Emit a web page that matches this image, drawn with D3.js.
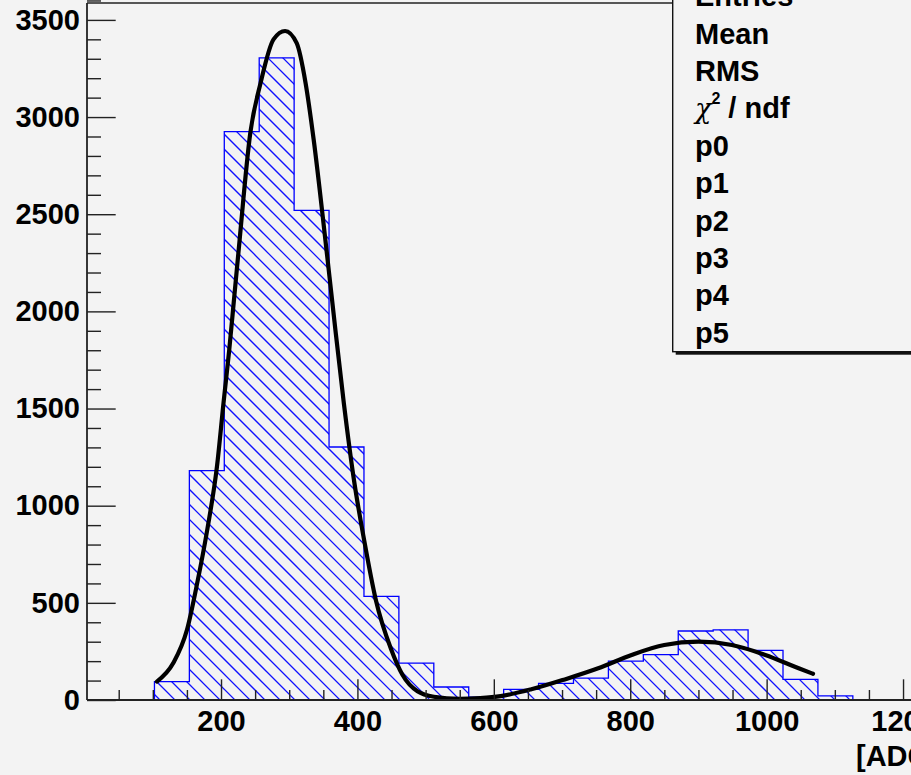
<!DOCTYPE html>
<html>
<head>
<meta charset="utf-8">
<script src="https://cdn.jsdelivr.net/npm/d3@7"></script>
<style>
  html, body { margin: 0; padding: 0; background: #f3f3f3; overflow: hidden; }
  svg { display: block; }
  text { font-family: "Liberation Sans", Arial, Helvetica, sans-serif; font-weight: bold; fill: #000; }
</style>
</head>
<body>
<svg id="chart" width="911" height="775"></svg>
<script>
// ---- data ----
const binEdges = [102.4, 153.6, 204.8, 256.0, 307.2, 358.4, 409.6, 460.8, 512.0, 563.2,
                  614.4, 665.6, 716.8, 768.0, 819.2, 870.4, 921.6, 972.8, 1024.0, 1075.2, 1126.4];
const binCounts = [95, 1180, 2925, 3305, 2520, 1302, 533, 190, 67, 15,
                   55, 86, 113, 200, 234, 355, 361, 255, 106, 21];

const fitX = [106, 130, 150, 165, 180, 194, 204, 212, 219, 226, 243, 258, 277, 294, 311,
              324, 336, 352, 365, 380, 395, 410, 427, 449, 466, 488, 512, 550, 580, 610,
              655, 704, 753, 802, 850, 900, 949, 998, 1047, 1068];
const fitY = [95, 190, 360, 600, 880, 1200, 1540, 1800, 2060, 2320, 2920, 3175, 3400, 3443, 3380,
              3175, 2880, 2400, 1990, 1530, 1130, 820, 515, 265, 130, 45, 17, 6, 10, 20,
              55, 106, 163, 232, 283, 300, 283, 232, 163, 135];

const xMajorTicks = [200, 400, 600, 800, 1000, 1200];
const xMinorTicks = [50, 100, 150, 250, 300, 350, 450, 500, 550, 650, 700, 750,
                     850, 900, 950, 1050, 1100, 1150, 1250];
const yMajorTicks = [0, 500, 1000, 1500, 2000, 2500, 3000, 3500];
const yMinorTicks = [100, 200, 300, 400, 600, 700, 800, 900, 1100, 1200, 1300, 1400,
                     1600, 1700, 1800, 1900, 2100, 2200, 2300, 2400, 2600, 2700, 2800, 2900,
                     3100, 3200, 3300, 3400, 3600];
const statsLabels = ["Entries", "Mean", "RMS", "CHI", "p0", "p1", "p2", "p3", "p4", "p5"];
const xTitle = "[ADC]";

// ---- layout ----
const svg = d3.select("#chart");
const W = 911, H = 775;
const frameLeft = 87, frameTop = 3, frameBottom = 700;

const x = d3.scaleLinear().domain([3.5, 1280]).range([frameLeft, 957.6]);
const y = d3.scaleLinear().domain([0, 3587]).range([frameBottom, frameTop]);

svg.append("rect").attr("width", W).attr("height", H).attr("fill", "#f3f3f3");

// ---- histogram shape ----
const stepPts = [[binEdges[0], 0]];
binCounts.forEach((c, i) => {
  stepPts.push([binEdges[i], c]);
  stepPts.push([binEdges[i + 1], c]);
});
stepPts.push([binEdges[binEdges.length - 1], 0]);
const stepLine = d3.line().x(d => x(d[0])).y(d => y(d[1]));

const defs = svg.append("defs");
defs.append("clipPath").attr("id", "histclip")
  .append("path").attr("d", stepLine(stepPts) + "Z");
defs.append("clipPath").attr("id", "plotclip")
  .append("rect").attr("x", frameLeft).attr("y", frameTop)
  .attr("width", 1000).attr("height", frameBottom - frameTop);

// hatching (lines going down-right), clipped to the histogram area
const hatchG = svg.append("g").attr("clip-path", "url(#histclip)");
const step = 15;
for (let k = -60; k < 70; k++) {
  const x0 = k * step;
  hatchG.append("line")
    .attr("x1", x0).attr("y1", 0).attr("x2", x0 + 800).attr("y2", 800)
    .attr("stroke", "#1010ff").attr("stroke-width", 1.25);
}

const g = svg.append("g").attr("clip-path", "url(#plotclip)");
g.append("path").attr("d", stepLine(stepPts))
  .attr("fill", "none").attr("stroke", "#0000ff").attr("stroke-width", 1.3);

// ---- fit curve ----
const fitPts = fitX.map((v, i) => [v, fitY[i]]);
g.append("path")
  .attr("d", d3.line().x(d => x(d[0])).y(d => y(d[1])).curve(d3.curveMonotoneX)(fitPts))
  .attr("fill", "none").attr("stroke", "#000").attr("stroke-width", 4.2)
  .attr("stroke-linejoin", "round").attr("stroke-linecap", "round");

// ---- frame top ----
svg.append("line").attr("x1", frameLeft).attr("x2", W).attr("y1", frameTop).attr("y2", frameTop)
  .attr("stroke", "#222").attr("stroke-width", 1.6);

// ---- axes ----
const axisColor = "#222";
const xAxisG = svg.append("g").attr("transform", `translate(0,${frameBottom})`)
  .call(d3.axisBottom(x).tickValues(xMajorTicks).tickSizeInner(-20.7).tickSizeOuter(0)
        .tickPadding(10).tickFormat(d3.format("d")));
svg.append("g").attr("transform", `translate(0,${frameBottom})`)
  .call(d3.axisBottom(x).tickValues(xMinorTicks).tickSizeInner(-10).tickSizeOuter(0).tickFormat(""))
  .call(a => a.select(".domain").remove());

const yAxisG = svg.append("g").attr("transform", `translate(${frameLeft},0)`)
  .call(d3.axisLeft(y).tickValues(yMajorTicks).tickSizeInner(-28.7).tickSizeOuter(0)
        .tickPadding(7).tickFormat(d3.format("d")));
svg.append("g").attr("transform", `translate(${frameLeft},0)`)
  .call(d3.axisLeft(y).tickValues(yMinorTicks).tickSizeInner(-14).tickSizeOuter(0).tickFormat(""))
  .call(a => a.select(".domain").remove());

svg.selectAll(".tick line").attr("stroke", axisColor).attr("stroke-width", 1.4);
svg.selectAll(".domain").attr("stroke", axisColor).attr("stroke-width", 1.8);
svg.selectAll(".tick text")
  .attr("font-family", "'Liberation Sans', Arial, sans-serif")
  .attr("font-weight", "bold").attr("font-size", 29).attr("fill", "#000");
xAxisG.selectAll(".domain").attr("d", `M${frameLeft},0H${W}`);
yAxisG.selectAll(".domain").attr("d", `M0,${frameBottom}V${frameTop}`);

// x axis title
svg.append("text").attr("x", 856).attr("y", 766)
  .attr("font-size", 29).text(xTitle);

// ---- stats box ----
const boxX = 672.7, boxBottom = 351.7;
svg.append("rect").attr("x", boxX + 3).attr("y", -60).attr("width", 400).attr("height", boxBottom + 60 + 3)
  .attr("fill", "#111");
svg.append("rect").attr("x", boxX).attr("y", -60).attr("width", 400).attr("height", boxBottom + 60)
  .attr("fill", "#f3f3f3").attr("stroke", "#111").attr("stroke-width", 1.4);

const statsG = svg.append("g");
statsLabels.forEach((lab, i) => {
  const t = statsG.append("text").attr("x", 695).attr("y", 6.1 + i * 37.4).attr("font-size", 29);
  if (lab === "CHI") {
    t.append("tspan").attr("font-family", "'DejaVu Serif', 'Liberation Serif', serif")
      .attr("font-weight", "normal").attr("font-style", "italic").attr("font-size", 27).text("χ");
    t.append("tspan").attr("font-size", 16).attr("dy", -14).text("2");
    t.append("tspan").attr("dy", 14).text(" / ndf");
  } else {
    t.text(lab);
  }
});
</script>
</body>
</html>
